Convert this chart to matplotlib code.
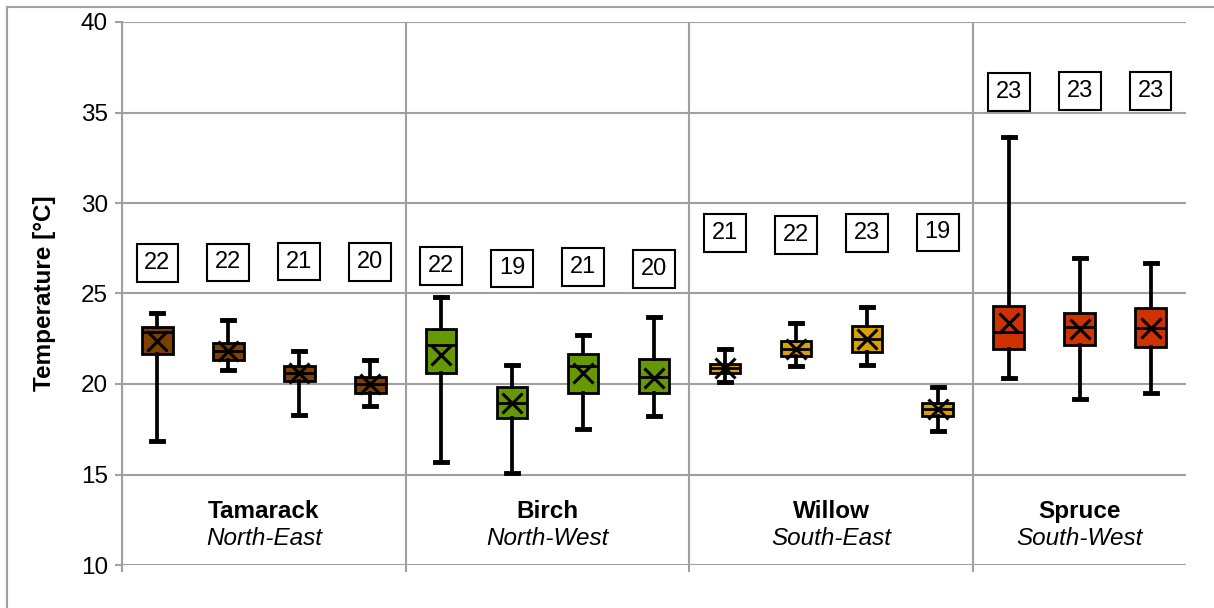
import matplotlib
matplotlib.use("Agg")
import matplotlib.pyplot as plt
from matplotlib.lines import Line2D

plt.rcParams['font.family'] = ['Liberation Sans', 'DejaVu Sans']

groups = ["Tamarack", "Birch", "Willow", "Spruce"]
regions = ["North-East", "North-West", "South-East", "South-West"]
group_colors = ["#7f3f00", "#669900", "#d9a000", "#cc3300"]

whishi = [[23.9, 23.55, 21.8, 21.3], [24.82, 21.05, 22.7, 23.68],
          [21.92, 23.35, 24.27, 19.85], [33.63, 26.96, 26.67]]
q3 = [[23.13, 22.25, 21.0, 20.4], [23.06, 19.82, 21.66, 21.36],
      [21.1, 22.36, 23.2, 18.93], [24.31, 23.9, 24.2]]
med = [[22.85, 21.8, 20.6, 20.0], [22.15, 18.93, 21.0, 20.37],
       [20.87, 21.95, 22.47, 18.6], [22.89, 23.17, 23.08]]
mean = [[22.35, 21.8, 20.6, 20.0], [21.6, 18.93, 20.6, 20.35],
        [20.87, 21.95, 22.5, 18.6], [23.39, 23.05, 23.1]]
q1 = [[21.66, 21.33, 20.18, 19.52], [20.59, 18.1, 19.52, 19.49],
      [20.63, 21.55, 21.77, 18.23], [21.95, 22.14, 22.06]]
whislo = [[16.85, 20.77, 18.29, 18.78], [15.67, 15.1, 17.51, 18.23],
          [20.1, 20.99, 21.07, 17.42], [20.33, 19.17, 19.48]]
counts = [[22, 22, 21, 20], [22, 19, 21, 20], [21, 22, 23, 19], [23, 23, 23]]
count_y = [[26.67, 26.72, 26.76, 26.74], [26.52, 26.39, 26.48, 26.34],
           [28.33, 28.23, 28.33, 28.38], [36.12, 36.19, 36.2]]

W, H = 1214, 608
fig = plt.figure(figsize=(W / 100, H / 100), dpi=100)
ax = fig.add_axes([122 / W, 43 / H, (1186 - 122) / W, (565 - 22) / H])

grid_c = "#a0a0a0"
ax.set_ylim(10, 40)
ax.set_yticks(range(10, 41, 5))
ax.tick_params(axis='y', labelsize=17.5, length=5, width=1.5, color=grid_c, pad=5)
ax.yaxis.grid(True, color=grid_c, linewidth=1.5)
ax.set_axisbelow(True)
for s in ["top", "right", "bottom"]:
    ax.spines[s].set_visible(False)
ax.spines["left"].set_color(grid_c)
ax.spines["left"].set_linewidth(1.5)

n_total = sum(len(g) for g in counts)
ax.set_xlim(-0.5, n_total - 0.5)
ax.set_xticks([])
seps = [-0.5]
pos = 0
for g in counts[:-1]:
    pos += len(g)
    seps.append(pos - 0.5)
ax.set_xticks(seps, minor=True)
ax.tick_params(axis='x', which='minor', length=5, width=1.5, color=grid_c, labelbottom=False)
ax.xaxis.grid(True, which='minor', color=grid_c, linewidth=1.5)

pos = 0
for gi in range(len(groups)):
    stats = []
    positions = []
    for j in range(len(counts[gi])):
        stats.append(dict(whislo=whislo[gi][j], q1=q1[gi][j], med=med[gi][j],
                          q3=q3[gi][j], whishi=whishi[gi][j], mean=mean[gi][j],
                          fliers=[]))
        positions.append(pos + j)
    ax.bxp(stats, positions=positions, widths=0.43, patch_artist=True,
           showmeans=True, showfliers=False, manage_ticks=False,
           boxprops=dict(facecolor=group_colors[gi], edgecolor="black", linewidth=2),
           medianprops=dict(color="black", linewidth=2),
           whiskerprops=dict(color="black", linewidth=2.7),
           capprops=dict(color="black", linewidth=3.5),
           capwidths=0.17,
           meanprops=dict(marker="x", markersize=15, markeredgecolor="black",
                          markeredgewidth=2.2))
    for j in range(len(counts[gi])):
        ax.text(pos + j, count_y[gi][j], str(counts[gi][j]), ha="center", va="center",
                fontsize=17,
                bbox=dict(boxstyle="square,pad=0.33", facecolor="white",
                          edgecolor="black", linewidth=1.5))
    center = pos + (len(counts[gi]) - 1) / 2
    ax.text(center, 12.98, groups[gi], ha="center", va="center", fontsize=17.5,
            fontweight="bold")
    ax.text(center, 11.44, regions[gi], ha="center", va="center", fontsize=17.5,
            style="italic")
    pos += len(counts[gi])

ax.set_ylabel("Temperature [°C]", fontsize=17.5, fontweight="bold", labelpad=18)

# outer chart border
fig.add_artist(Line2D([7 / W, 1], [1 - 7 / H, 1 - 7 / H], color=grid_c, linewidth=1.5,
                      transform=fig.transFigure))
fig.add_artist(Line2D([7 / W, 7 / W], [0, 1 - 7 / H], color=grid_c, linewidth=1.5,
                      transform=fig.transFigure))

fig.savefig("out.png", dpi=100)
